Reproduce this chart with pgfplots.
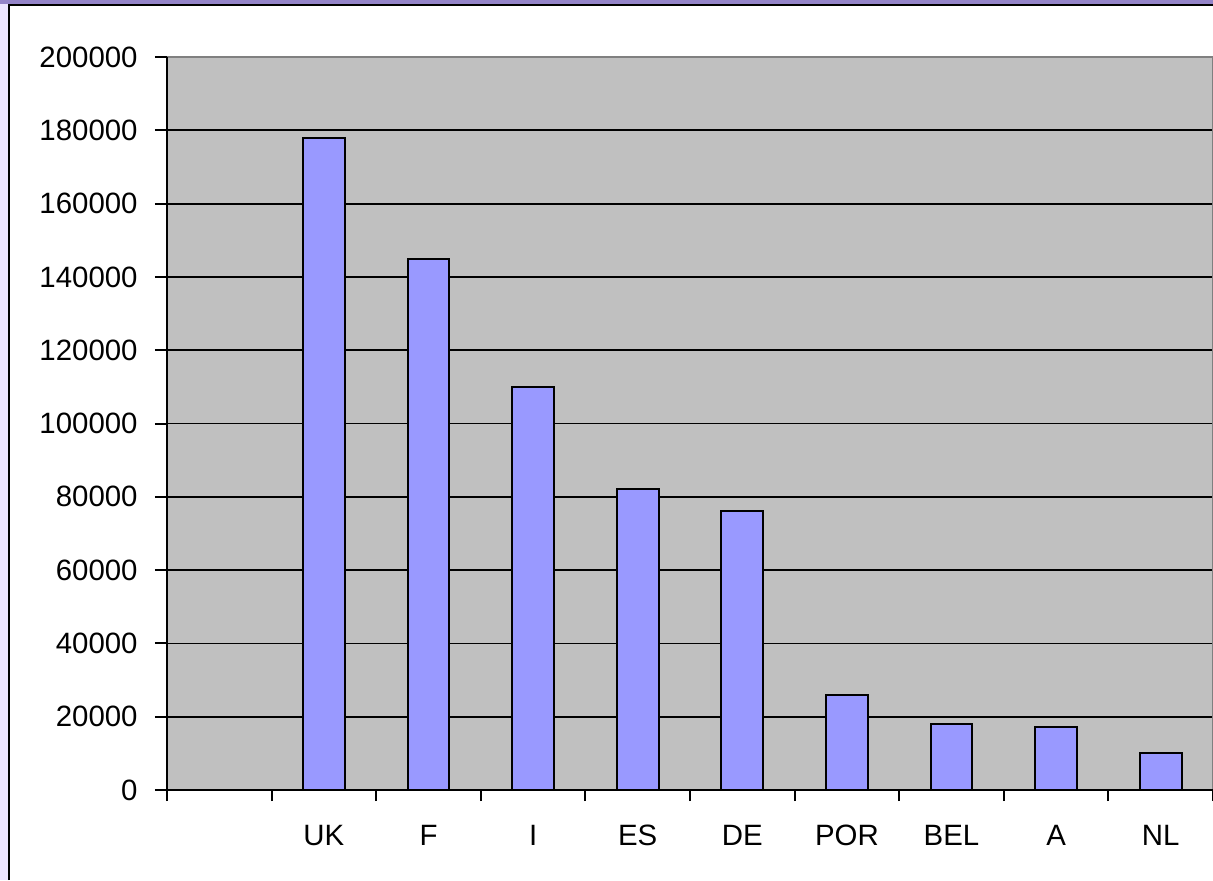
\documentclass[border=0pt]{standalone}
\usepackage{pgfplots}
\pgfplotsset{compat=1.18}
\usepackage{fontspec}
\setmainfont{Liberation Sans}
\definecolor{plotbg}{HTML}{C0C0C0}
\definecolor{barfill}{HTML}{9999FF}
\definecolor{bandpurple}{HTML}{9484C8}
\definecolor{lavender}{HTML}{ECE4FF}
\definecolor{boxgray}{HTML}{808080}
\begin{document}
\begin{tikzpicture}[x=1pt,y=1pt]
% frame of the slide
\path[use as bounding box] (0,0) rectangle (606.5,440);
\fill[lavender] (0,0) rectangle (606.5,440);
\fill[bandpurple] (0,438) rectangle (606.5,440);
\fill[white] (4.5,0) rectangle (606.5,437.5);
\draw[black, line width=1.2pt] (4.5,0) -- (4.5,437.5) -- (606.5,437.5);
\begin{axis}[
    at={(83.5pt,45pt)}, anchor=south west,
    scale only axis, width=523pt, height=366.5pt,
    xmin=0, xmax=10, ymin=0, ymax=200000,
    ybar, bar width=0.4,
    clip=false,
    axis background/.style={fill=plotbg},
    axis line style={draw=none},
    font=\fontsize{14.7}{17}\selectfont,
    tick pos=left, tick align=outside,
    ytick={0,20000,...,200000},
    scaled y ticks=false,
    yticklabel style={/pgf/number format/fixed, /pgf/number format/1000 sep={},
        /pgf/number format/assume math mode=true,
        anchor=east, inner sep=0pt, xshift=-8.5pt},
    ymajorgrids, major grid style={black, line width=0.9pt},
    major tick length=6pt, minor tick length=5.5pt,
    every tick/.style={black, line width=1pt},
    xtick={0.5,1.5,...,9.5},
    xticklabels={{},UK,F,I,ES,DE,POR,BEL,A,NL},
    major x tick style={draw=none},
    minor xtick={0,1,...,10},
    xticklabel style={anchor=north, inner sep=0pt, yshift=-11.5pt},
]
\addplot[fill=barfill, draw=black, line width=1pt] coordinates {
    (1.5,178000) (2.5,145000) (3.5,110000) (4.5,82000) (5.5,76000)
    (6.5,26000) (7.5,18000) (8.5,17300) (9.5,10000)
};
% plot area border: grey top/right, black axes
\draw[boxgray, line width=1pt] (rel axis cs:0,1) -- (rel axis cs:1,1) -- (rel axis cs:1,0);
\draw[black, line width=1pt] (rel axis cs:0,1) -- (rel axis cs:0,0) -- (rel axis cs:1,0);
\end{axis}
\end{tikzpicture}
\end{document}
